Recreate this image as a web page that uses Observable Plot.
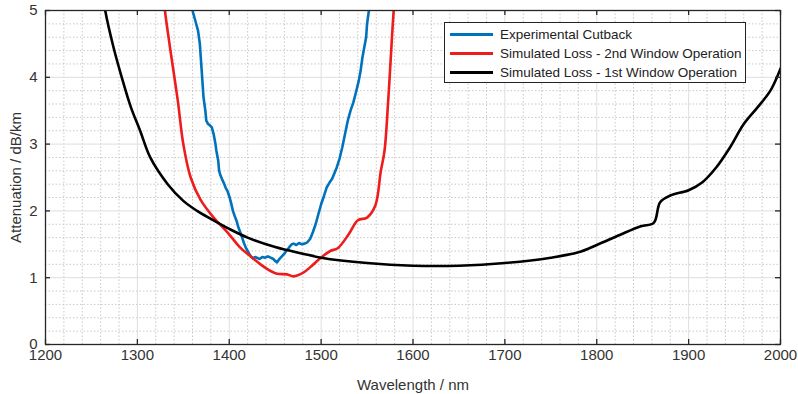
<!DOCTYPE html>
<html>
<head>
<meta charset="utf-8">
<script src="https://cdn.jsdelivr.net/npm/d3@7"></script>
<script src="https://cdn.jsdelivr.net/npm/@observablehq/plot@0.6"></script>
<style>
  html, body { margin: 0; padding: 0; background: white; }
  #wrap { position: relative; width: 798px; height: 394px; font-family: "Liberation Sans", Arial, sans-serif; }
  #legend { position: absolute; left: 444px; top: 22px; width: 300px; height: 59px; border: 1.3px solid #222; background: white; box-sizing: content-box; }
  .row { position: absolute; left: 5px; height: 19px; display: flex; align-items: center; font-size: 13.5px; color: #222; white-space: nowrap; }
  .sw { width: 43px; height: 2.6px; margin-right: 7px; }
</style>
</head>
<body>
<div id="wrap"></div>
<script>
// Tick values
const xTicks = [1200, 1300, 1400, 1500, 1600, 1700, 1800, 1900, 2000];
const yTicks = [0, 1, 2, 3, 4, 5];
const xMinor = [1220,1240,1260,1280,1320,1340,1360,1380,1420,1440,1460,1480,1520,1540,1560,1580,1620,1640,1660,1680,1720,1740,1760,1780,1820,1840,1860,1880,1920,1940,1960,1980];
const yMinor = [0.2,0.4,0.6,0.8,1.2,1.4,1.6,1.8,2.2,2.4,2.6,2.8,3.2,3.4,3.6,3.8,4.2,4.4,4.6,4.8];

// Series names
const seriesNames = ["Experimental Cutback", "Simulated Loss - 2nd Window Operation", "Simulated Loss - 1st Window Operation"];
const seriesColors = ["#0072BD", "#EE1C1C", "#000000"];

// Experimental cutback (blue)
const expWl = [1358,1360,1363,1366,1368,1369,1370,1371,1372,1374,1375,1377,1379,1381,1383,1385,1386,1388,1389,1390,1392,1394,1396,1398,1400,1402,1404,1406,1408,1410,1412,1414,1416,1418,1420,1422,1424,1426,1428,1430,1433,1436,1439,1442,1445,1448,1450,1452,1454,1456,1458,1460,1462,1464,1466,1468,1470,1473,1476,1479,1482,1485,1488,1491,1494,1497,1500,1503,1506,1509,1512,1514,1517,1520,1523,1526,1529,1532,1535,1538,1541,1543,1545,1547,1549,1550,1552,1554];
const expLoss = [5.3,5.0,4.85,4.7,4.5,4.3,4.1,3.9,3.7,3.5,3.35,3.3,3.28,3.25,3.15,3.0,2.9,2.75,2.6,2.55,2.48,2.42,2.35,2.3,2.22,2.12,2.0,1.92,1.85,1.75,1.68,1.6,1.52,1.45,1.4,1.35,1.31,1.29,1.31,1.3,1.28,1.31,1.3,1.32,1.3,1.28,1.25,1.23,1.27,1.3,1.33,1.36,1.4,1.43,1.47,1.5,1.51,1.49,1.52,1.5,1.51,1.53,1.58,1.68,1.8,1.95,2.1,2.22,2.35,2.42,2.48,2.55,2.65,2.78,2.95,3.15,3.35,3.5,3.62,3.78,3.95,4.1,4.3,4.45,4.6,4.8,5.0,5.3];

// Simulated loss, 2nd window (red)
const simWl2 = [1328,1330,1336,1344,1350,1358,1369,1383,1398,1412,1425,1434,1445,1452,1463,1470,1481,1490,1499,1510,1518,1530,1540,1550,1559,1565,1569,1573,1579,1581];
const simLoss2 = [5.3,5.0,4.4,3.65,3.0,2.5,2.16,1.9,1.68,1.45,1.3,1.2,1.1,1.06,1.05,1.02,1.08,1.18,1.29,1.4,1.44,1.65,1.86,1.9,2.08,2.6,2.9,3.65,5.0,5.3];

// Simulated loss, 1st window (black)
const simWl1 = [1262,1265,1274,1283,1293,1303,1314,1333,1350,1365,1380,1400,1420,1450,1480,1500,1550,1600,1650,1700,1750,1780,1800,1825,1848,1862,1869,1880,1900,1915,1930,1945,1960,1975,1989,2000];
const simLoss1 = [5.3,5.0,4.45,4.0,3.55,3.2,2.8,2.4,2.15,2.0,1.88,1.73,1.6,1.46,1.36,1.3,1.22,1.18,1.18,1.22,1.3,1.38,1.49,1.64,1.77,1.82,2.13,2.23,2.31,2.43,2.65,2.95,3.3,3.55,3.8,4.13];

const toRows = (wl, v) => wl.map((w, i) => ({wl: w, loss: v[i]}));
const blue = toRows(expWl, expLoss);
const red = toRows(simWl2, simLoss2);
const black = toRows(simWl1, simLoss1);

const W = 798, H = 394, mL = 45, mR = 18, mT = 10, mB = 50;
const pw = W - mL - mR, ph = H - mT - mB;
const axisColor = "#262626";

const chart = Plot.plot({
  width: W, height: H,
  marginLeft: mL, marginRight: mR, marginTop: mT, marginBottom: mB,
  style: {fontFamily: "'Liberation Sans', Arial, sans-serif", fontSize: "15px", color: "#333", background: "white", overflow: "visible"},
  x: {domain: [1200, 2000]},
  y: {domain: [0, 5]},
  marks: [
    Plot.gridX(xMinor, {stroke: "#c8c8c8", strokeOpacity: 1, strokeDasharray: "1.5,2"}),
    Plot.gridY(yMinor, {stroke: "#c8c8c8", strokeOpacity: 1, strokeDasharray: "1.5,2"}),
    Plot.gridX(xTicks, {stroke: "#dedede", strokeOpacity: 1}),
    Plot.gridY(yTicks, {stroke: "#dedede", strokeOpacity: 1}),
    Plot.line(blue, {x: "wl", y: "loss", stroke: seriesColors[0], strokeWidth: 2.6, clip: true}),
    Plot.line(red, {x: "wl", y: "loss", stroke: seriesColors[1], strokeWidth: 2.6, clip: true, curve: "catmull-rom"}),
    Plot.line(black, {x: "wl", y: "loss", stroke: seriesColors[2], strokeWidth: 2.6, clip: true, curve: "catmull-rom"}),
    Plot.frame({stroke: axisColor, strokeWidth: 1.3}),
    Plot.tickX(xTicks, {x: d => d, insetTop: ph - 5, stroke: axisColor, strokeWidth: 1.3}),
    Plot.tickX(xTicks, {x: d => d, insetBottom: ph - 5, stroke: axisColor, strokeWidth: 1.3}),
    Plot.tickY(yTicks, {y: d => d, insetRight: pw - 5, stroke: axisColor, strokeWidth: 1.3}),
    Plot.tickY(yTicks, {y: d => d, insetLeft: pw - 5, stroke: axisColor, strokeWidth: 1.3}),
    Plot.axisX(xTicks, {tickSize: 0, tickPadding: 5, tickFormat: d => String(d), label: "Wavelength / nm", labelAnchor: "center", labelArrow: "none", labelOffset: 45, fill: "#333"}),
    Plot.axisY(yTicks, {tickSize: 0, tickPadding: 8, tickFormat: d => String(d), label: "Attenuation / dB/km", labelAnchor: "center", labelArrow: "none", labelOffset: 35, fill: "#333"})
  ]
});

const wrap = document.getElementById("wrap");
wrap.appendChild(chart);

const legend = document.createElement("div");
legend.id = "legend";
seriesNames.forEach((name, i) => {
  const row = document.createElement("div");
  row.className = "row";
  row.style.top = (2 + i * 19) + "px";
  const sw = document.createElement("span");
  sw.className = "sw";
  sw.style.background = seriesColors[i];
  const tx = document.createElement("span");
  tx.textContent = name;
  row.appendChild(sw);
  row.appendChild(tx);
  legend.appendChild(row);
});
wrap.appendChild(legend);
</script>
</body>
</html>
